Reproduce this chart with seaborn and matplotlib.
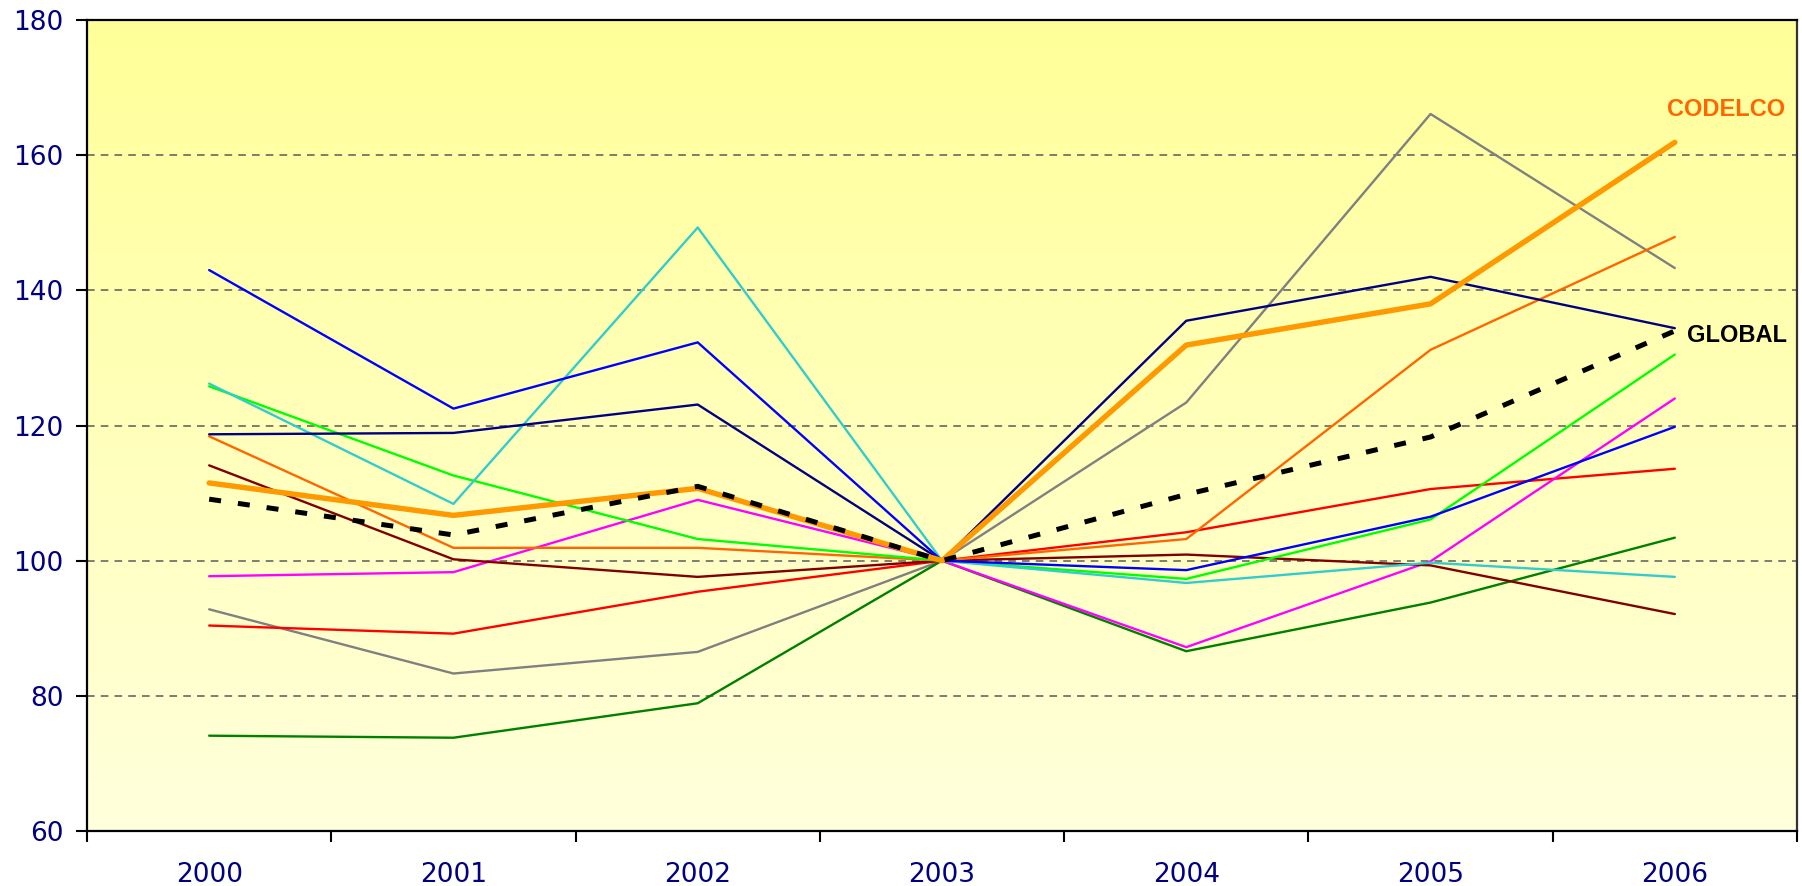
import numpy as np
import pandas as pd
import matplotlib
matplotlib.use("Agg")
import matplotlib.pyplot as plt
from matplotlib.colors import LinearSegmentedColormap
from matplotlib.ticker import FixedLocator
import seaborn as sns

# ---- data: index values (2003 = 100) ----
years = ["2000", "2001", "2002", "2003", "2004", "2005", "2006"]
y_ticks = [60, 80, 100, 120, 140, 160, 180]

s_blue = [143.0, 122.5, 132.3, 100.0, 98.6, 106.5, 119.8]
s_navy = [118.7, 118.9, 123.1, 100.0, 135.5, 142.0, 134.4]
s_cyan = [126.2, 108.4, 149.3, 100.0, 96.7, 99.7, 97.6]
s_lime = [125.8, 112.6, 103.2, 100.0, 97.3, 106.1, 130.5]
s_orange = [118.4, 101.9, 101.9, 100.0, 103.2, 131.2, 147.9]
s_maroon = [114.1, 100.2, 97.6, 100.0, 100.9, 99.3, 92.1]
s_magenta = [97.7, 98.3, 109.0, 100.0, 87.2, 99.9, 124.0]
s_red = [90.4, 89.2, 95.4, 100.0, 104.2, 110.6, 113.6]
s_gray = [92.8, 83.3, 86.5, 100.0, 123.4, 166.1, 143.3]
s_green = [74.1, 73.8, 78.9, 100.0, 86.6, 93.8, 103.4]
codelco = [111.5, 106.7, 110.7, 100.0, 131.9, 138.0, 161.9]
global_index = [109.1, 103.8, 111.0, 100.0, 109.8, 118.3, 134.0]

thin_series = [
    (s_gray, "#808080"),
    (s_green, "#008000"),
    (s_red, "#FF0000"),
    (s_magenta, "#FF00FF"),
    (s_maroon, "#800000"),
    (s_orange, "#FF6600"),
    (s_lime, "#00FF00"),
    (s_cyan, "#33CCCC"),
    (s_navy, "#000080"),
    (s_blue, "#0000FF"),
]

sns.set_theme(style="white")
plt.rcParams["font.family"] = ["Liberation Sans", "DejaVu Sans"]

TICK_FONT = {"family": "DejaVu Sans", "size": 19, "color": "#000080"}

fig = plt.figure(figsize=(18.02, 8.86), dpi=100, facecolor="white")
ax = fig.add_axes([0.0483, 0.0621, 0.9489, 0.9153])

x_pos = np.arange(len(years))

# yellow vertical gradient background
grad = np.linspace(0, 1, 256).reshape(-1, 1)
cmap = LinearSegmentedColormap.from_list("bg", ["#FFFF99", "#FFFFDC"])
ax.imshow(grad, cmap=cmap, extent=[-0.5, 6.5, 60, 180], aspect="auto",
          origin="upper", zorder=0)

# dashed horizontal grid
for gv in [80, 100, 120, 140, 160]:
    ax.axhline(gv, color="#5a5a5a", lw=1.1, ls=(0, (5, 4)), zorder=1)

for vals, col in thin_series:
    sns.lineplot(x=x_pos, y=vals, color=col, lw=1.7, ax=ax, sort=False,
                 zorder=3)

sns.lineplot(x=x_pos, y=codelco, color="#FF9900", lw=3.9, ax=ax, sort=False,
             zorder=4)
line_g = sns.lineplot(x=x_pos, y=global_index, color="black", lw=3.6, ax=ax,
                      sort=False, zorder=5).lines[-1]
line_g.set_dashes([2.4, 3.4])
line_g.set_solid_capstyle("butt")

ax.text(5.97, 166.7, "CODELCO", color="#FF6600", fontsize=17,
        fontweight="bold", ha="left", va="center", zorder=6)
ax.text(6.05, 133.3, "GLOBAL", color="black", fontsize=17,
        fontweight="bold", ha="left", va="center", zorder=6)

ax.set_xlim(-0.5, 6.5)
ax.set_ylim(60, 180)
ax.set_xticks(x_pos)
ax.set_xticklabels(years, fontdict=TICK_FONT)
ax.xaxis.set_minor_locator(FixedLocator(np.arange(-0.5, 7.0, 1.0)))
ax.set_yticks(y_ticks)
ax.set_yticklabels([str(v) for v in y_ticks], fontdict=TICK_FONT)

ax.tick_params(axis="x", which="major", length=0, pad=22)
ax.tick_params(axis="x", which="minor", length=8, width=1.5, color="black",
               direction="out", bottom=True)
ax.tick_params(axis="y", which="major", length=8, width=1.5, color="black",
               direction="out", left=True, pad=9)

for sp in ax.spines.values():
    sp.set_visible(True)
    sp.set_color("black")
    sp.set_linewidth(1.6)
ax.spines["right"].set_color("#333333")

ax.set_xlabel("")
ax.set_ylabel("")
fig.savefig("out.png", dpi=100, facecolor="white")
